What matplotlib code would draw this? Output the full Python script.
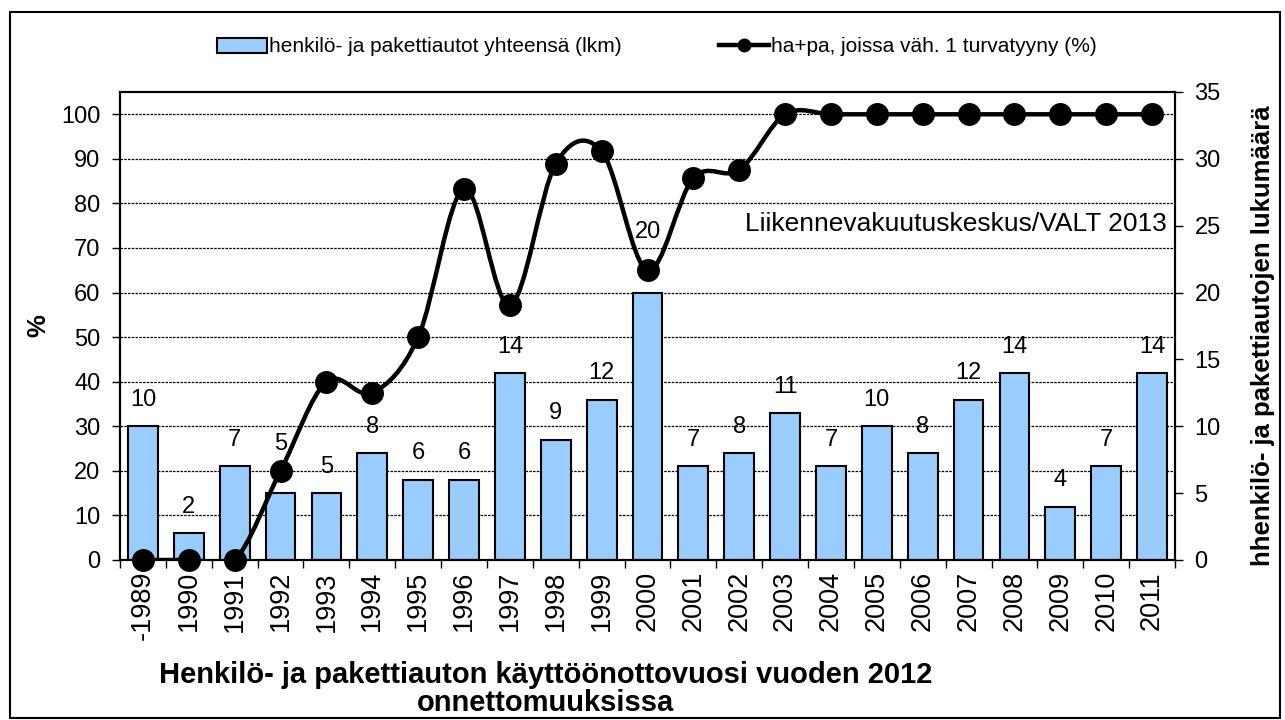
import numpy as np
import matplotlib.pyplot as plt
from matplotlib.path import Path
from matplotlib.patches import PathPatch, Rectangle
from matplotlib.lines import Line2D
from matplotlib.transforms import blended_transform_factory

plt.rcParams['font.family'] = ['Liberation Sans', 'DejaVu Sans']

# data
years = ['-1989', '1990', '1991', '1992', '1993', '1994', '1995', '1996', '1997',
         '1998', '1999', '2000', '2001', '2002', '2003', '2004', '2005', '2006',
         '2007', '2008', '2009', '2010', '2011']
cars = [10, 2, 7, 5, 5, 8, 6, 6, 14, 9, 12, 20, 7, 8, 11, 7, 10, 8, 12, 14, 4, 7, 14]
belt_pct = [0, 0, 0, 20, 40, 37.5, 50, 83.3, 57.1, 88.9, 91.7, 65, 85.7, 87.5,
            100, 100, 100, 100, 100, 100, 100, 100, 100]
pct_ticks = [0, 10, 20, 30, 40, 50, 60, 70, 80, 90, 100]
cnt_ticks = [0, 5, 10, 15, 20, 25, 30, 35]

bar_label = 'henkilö- ja pakettiautot yhteensä (lkm)'
line_label = 'ha+pa, joissa väh. 1 turvatyyny (%)'
source = 'Liikennevakuutuskeskus/VALT 2013'
xtitle = 'Henkilö- ja pakettiauton käyttöönottovuosi vuoden 2012\nonnettomuuksissa'

# labels that were nudged up out of the line's way in the original
lift = {'1992': 16.5, '2000': 25}

fig = plt.figure(figsize=(12.85, 7.2), dpi=100)
ax = fig.add_axes([120 / 1285, 1 - 560 / 720, (1175 - 120) / 1285, (560 - 92) / 720])
ax2 = ax.twinx()
ax.set_zorder(2)
ax.patch.set_visible(False)

x = np.arange(len(years))

# bars (right axis)
ax2.bar(x, cars, width=0.65, color='#99ccff', edgecolor='black', linewidth=1.5, zorder=2)
for xi, yr, v in zip(x, years, cars):
    ax.annotate(str(v), (xi, v), xycoords=ax2.transData,
                xytext=(0, 11 + lift.get(yr, 0)), textcoords='offset points',
                ha='center', va='bottom', fontsize=17, zorder=5)
ax2.set_ylim(0, 35)
ax2.set_yticks(cnt_ticks)

# dashed grid from the % axis, behind the bars
tr = blended_transform_factory(ax2.transAxes, ax.transData)
for g in pct_ticks:
    ax2.plot([0, 1], [g, g], transform=tr, color='black', lw=0.9,
             ls=(0, (2, 1)), zorder=0)

# smoothed line (left axis), Excel-like bezier
px = list(x)
py = list(belt_pct)
verts = [(px[0], py[0])]
codes = [Path.MOVETO]
n = len(px)
for i in range(n - 1):
    p0 = np.array([px[max(i - 1, 0)], py[max(i - 1, 0)]])
    p1 = np.array([px[i], py[i]])
    p2 = np.array([px[i + 1], py[i + 1]])
    p3 = np.array([px[min(i + 2, n - 1)], py[min(i + 2, n - 1)]])
    c1 = p1 + (p2 - p0) / 6
    c2 = p2 - (p3 - p1) / 6
    verts += [tuple(c1), tuple(c2), tuple(p2)]
    codes += [Path.CURVE4] * 3
ax.add_patch(PathPatch(Path(verts, codes), facecolor='none', edgecolor='black',
                       lw=3.2, zorder=3))
ax.plot(x, belt_pct, ls='none', marker='o', ms=15.5, color='black', zorder=4,
        clip_on=False)

ax.set_ylim(0, 105)
ax.set_yticks(pct_ticks)
ax.set_xlim(-0.5, len(years) - 0.5)

# x ticks: labels on categories, marks on boundaries
ax.set_xticks(x)
ax.set_xticklabels(years, rotation=90, fontsize=19.5)
ax.set_xticks(np.arange(-0.5, len(years), 1), minor=True)
ax.tick_params(axis='x', which='major', length=0, pad=8)
ax.tick_params(axis='x', which='minor', length=6, width=1, direction='out')
ax.tick_params(axis='y', labelsize=17, length=6, width=1, direction='out', pad=8)
ax2.tick_params(axis='y', labelsize=17, length=6, width=1, direction='out', pad=8)
ax2.tick_params(axis='x', which='both', length=0)

for a in (ax, ax2):
    for s in a.spines.values():
        s.set_linewidth(1.5)

ax.set_ylabel('%', fontsize=18.5, fontweight='bold')
ax.yaxis.set_label_coords(-0.066, 0.5)
ax2.set_ylabel('hhenkilö- ja pakettiautojen lukumäärä', fontsize=18.5,
               fontweight='bold')
ax2.yaxis.set_label_coords(1.072, 0.48)

ax.text(0.992, 0.717, source, transform=ax.transAxes, ha='right', va='center',
        fontsize=19)

fig.text(546 / 1285, 1 - 689 / 720, xtitle, ha='center', va='center',
         fontsize=21, fontweight='bold', multialignment='center', linespacing=1.0)

# legend
handles = [Rectangle((0, 0), 1, 1, facecolor='#99ccff', edgecolor='black', lw=1.5),
           Line2D([], [], color='black', lw=3.2, marker='o', ms=9)]
fig.legend(handles, [bar_label, line_label], loc='center', ncol=2,
           bbox_to_anchor=(657 / 1285, 1 - 47 / 720), frameon=False, fontsize=15,
           columnspacing=4.7, handlelength=2.4, handletextpad=0.1)

# outer frame
fig.patches.append(Rectangle((10 / 1285, 2 / 720), 1270 / 1285, 706 / 720,
                             transform=fig.transFigure, fill=False,
                             edgecolor='black', lw=1.5))

fig.savefig('out.png', dpi=100)
